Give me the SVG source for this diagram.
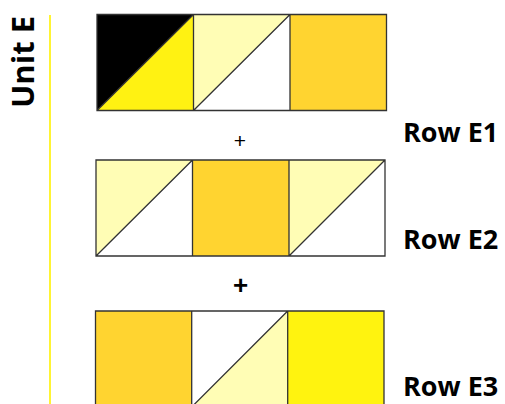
<svg xmlns="http://www.w3.org/2000/svg" width="505" height="404" viewBox="0 0 505 404">
<style>
.d{fill:none;stroke:#333;stroke-width:1.3}
.lbl{font-family:"Open Sans","Noto Sans",sans-serif;font-weight:bold;fill:#000}
</style>
<rect width="505" height="404" fill="#fff"/>
<g id="unit-label">
<text class="lbl" font-size="31" transform="translate(34,62) rotate(-90)" text-anchor="middle">Unit E</text>
<line x1="50" y1="15" x2="50" y2="404" stroke="#FFF200" stroke-width="1.6"/>
</g>
<g id="row-e1">
<polygon points="97,14.5 193.5,14.5 97,110.5" fill="#000"/>
<polygon points="193.5,14.5 193.5,110.5 97,110.5" fill="#FFF212"/>
<polygon points="193.5,14.5 290,14.5 193.5,110.5" fill="#FFFDB5"/>
<polygon points="290,14.5 290,110.5 193.5,110.5" fill="#fff"/>
<rect x="290" y="14.5" width="96.5" height="96" fill="#FFD430"/>
<path class="d" d="M97,14.5H386.5V110.5H97Z M193.5,14.5V110.5 M290,14.5V110.5 M97,110.5L193.5,14.5 M193.5,110.5L290,14.5"/>
<text class="lbl" x="403" y="142" font-size="27">Row E1</text>
</g>
<g id="plus-1"><text x="240" y="148" font-family="Liberation Sans,sans-serif" font-size="21" text-anchor="middle" fill="#000">+</text></g>
<g id="row-e2">
<polygon points="96,160 192.5,160 96,256" fill="#FFFDB5"/>
<polygon points="192.5,160 192.5,256 96,256" fill="#fff"/>
<rect x="192.5" y="160" width="96.5" height="96" fill="#FFD430"/>
<polygon points="289,160 385,160 289,256" fill="#FFFDB5"/>
<polygon points="385,160 385,256 289,256" fill="#fff"/>
<path class="d" d="M96,160H385V256H96Z M192.5,160V256 M289,160V256 M96,256L192.5,160 M289,256L385,160"/>
<text class="lbl" x="403" y="249" font-size="27">Row E2</text>
</g>
<g id="plus-2"><text x="240.5" y="294" font-family="Liberation Sans,sans-serif" font-weight="bold" font-size="26" text-anchor="middle" fill="#000">+</text></g>
<g id="row-e3">
<rect x="95.5" y="311" width="96.2" height="96" fill="#FFD430"/>
<polygon points="191.7,311 287.7,311 191.7,407" fill="#fff"/>
<polygon points="287.7,311 287.7,407 191.7,407" fill="#FFFDB5"/>
<rect x="287.7" y="311" width="96.3" height="96" fill="#FFF30F"/>
<path class="d" d="M95.5,311H384V407H95.5Z M191.7,311V407 M287.7,311V407 M191.7,407L287.7,311"/>
<text class="lbl" x="403" y="396" font-size="27">Row E3</text>
</g>
</svg>
